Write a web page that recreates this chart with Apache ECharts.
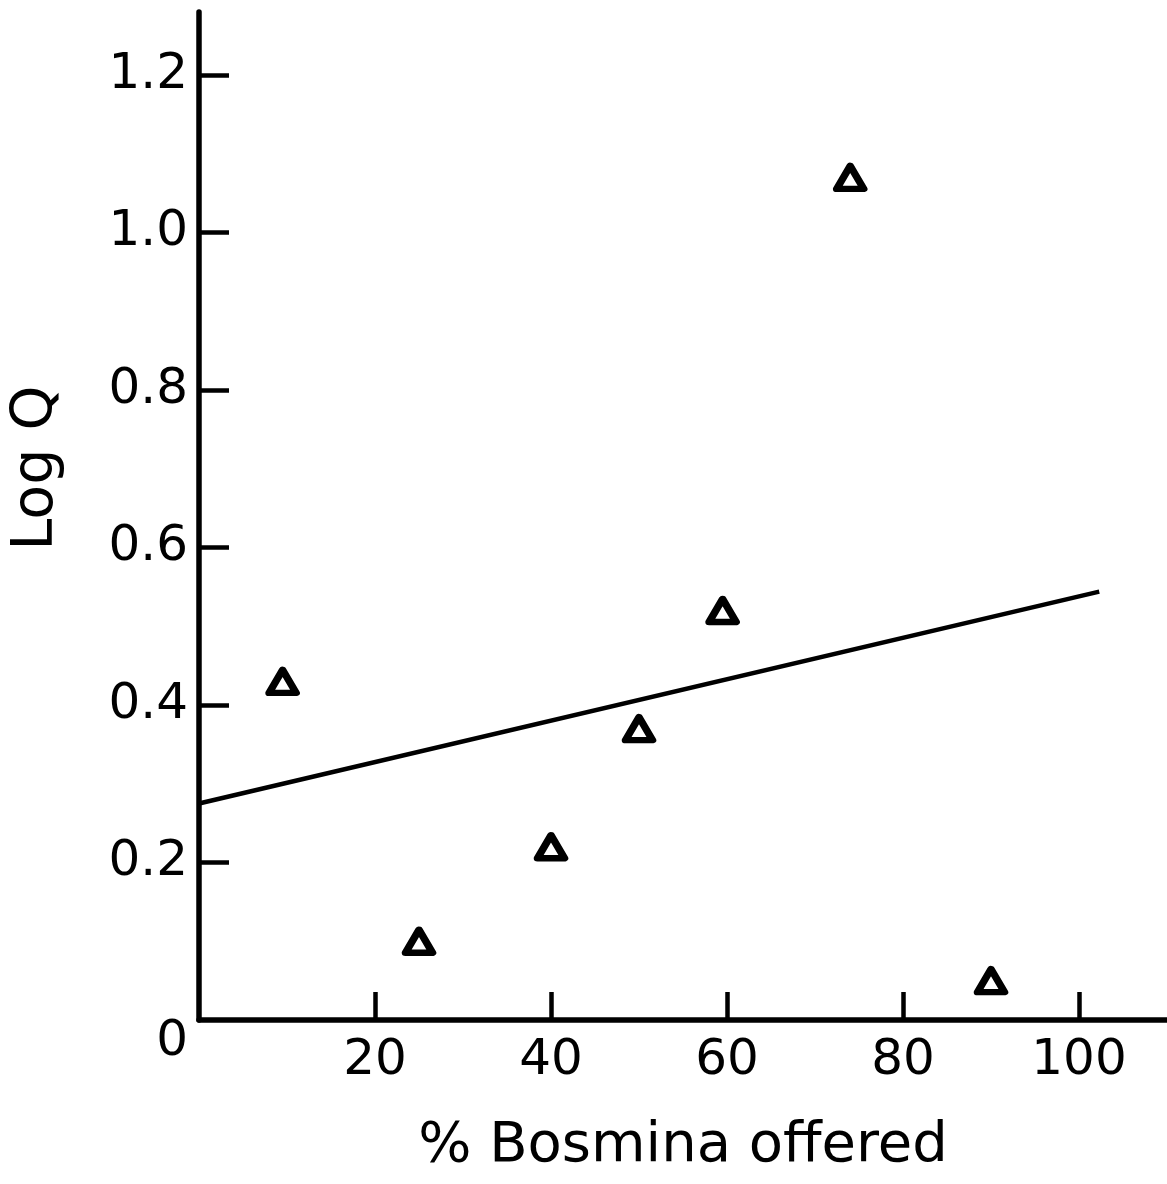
<!DOCTYPE html>
<html>
<head>
<meta charset="utf-8">
<script src="https://cdn.jsdelivr.net/npm/echarts@6/dist/echarts.min.js"></script>
<style>
html,body{margin:0;padding:0;background:#fff;}
#chart{width:1167px;height:1184px;}
</style>
</head>
<body>
<div id="chart"></div>
<script>
// Data
const pctBosmina = [9.5, 25, 40, 50, 59.5, 74, 90];
const logQ = [0.43, 0.10, 0.22, 0.37, 0.52, 1.07, 0.05];
const fitX = [0, 102.3];
const fitY = [0.275, 0.544];
const xTicks = [0, 20, 40, 60, 80, 100];
const yTicks = [0, 0.2, 0.4, 0.6, 0.8, 1.0, 1.2];
const xTitle = '% Bosmina offered';
const yTitle = 'Log Q';

const font = 'DejaVu Sans';
const chart = echarts.init(document.getElementById('chart'));
chart.setOption({
  animation: false,
  backgroundColor: '#fff',
  grid: { left: 199, right: 0, top: 12, bottom: 164 },
  xAxis: {
    type: 'value', min: 0, max: 110,
    name: xTitle, nameLocation: 'middle', nameGap: 98,
    nameTextStyle: { fontFamily: font, fontSize: 56, color: '#000' },
    axisLine: { show: true, lineStyle: { color: '#000', width: 5.5 } },
    axisTick: { show: true, inside: true, length: 28, lineStyle: { color: '#000', width: 4.5 },
      customValues: xTicks.filter(v => v !== 0) },
    axisLabel: { fontFamily: font, fontSize: 50, color: '#000', margin: 16,
      customValues: xTicks.filter(v => v !== 0),
      formatter: v => String(v) },
    splitLine: { show: false }
  },
  yAxis: {
    type: 'value', min: 0, max: 1.28,
    name: yTitle, nameLocation: 'middle', nameGap: 133,
    nameTextStyle: { fontFamily: font, fontSize: 57, color: '#000', padding: [0, 0, 0, 96] },
    axisLine: { show: true, lineStyle: { color: '#000', width: 5.5 } },
    axisTick: { show: true, inside: true, length: 30, lineStyle: { color: '#000', width: 4.5 },
      customValues: yTicks.filter(v => v !== 0) },
    axisLabel: { fontFamily: font, fontSize: 50, color: '#000', margin: 11,
      customValues: yTicks,
      formatter: v => v === 0 ? '{o|0}' : v.toFixed(1),
      rich: { o: { fontFamily: font, fontSize: 50, color: '#000', padding: [44, 0, 0, 0] } } },
    splitLine: { show: false }
  },
  series: [
    {
      type: 'line',
      data: fitX.map((x, i) => [x, fitY[i]]),
      symbol: 'none',
      lineStyle: { color: '#000', width: 4.5 },
      z: 2
    },
    {
      type: 'scatter',
      data: pctBosmina.map((x, i) => [x, logQ[i]]),
      symbol: 'triangle',
      symbolSize: [27, 23],
      itemStyle: { color: '#fff', borderColor: '#000', borderWidth: 7, borderJoin: 'round', opacity: 1 },
      z: 3
    }
  ]
});
</script>
</body>
</html>
